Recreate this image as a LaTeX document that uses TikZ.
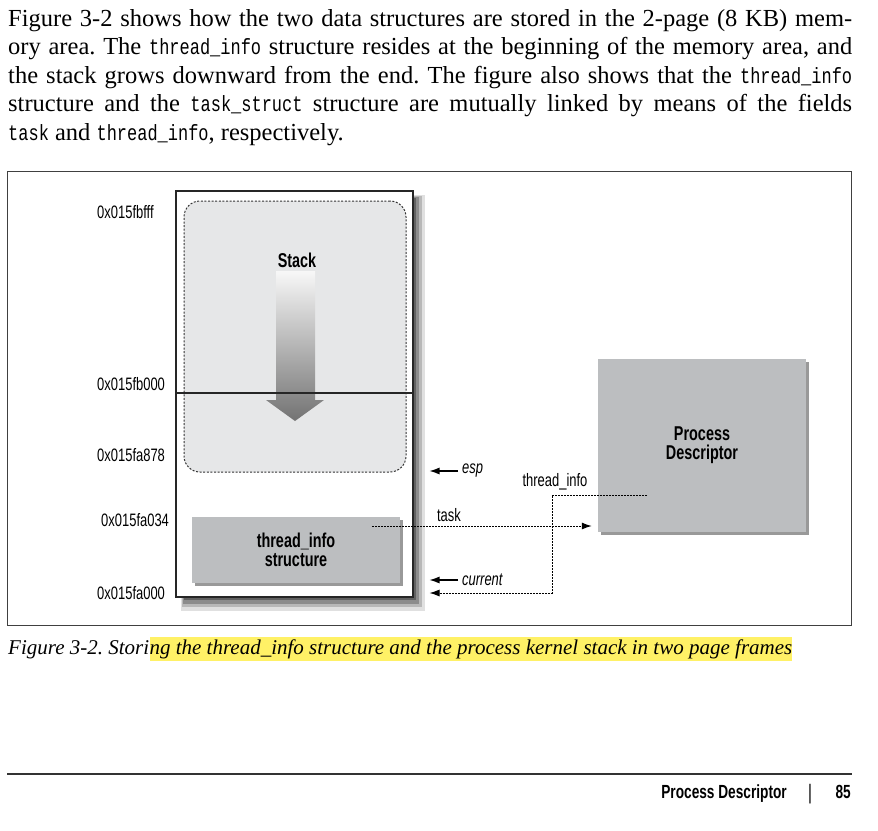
\documentclass[tikz,border=0pt]{standalone}
\usepackage{fontspec}
\setmainfont{Liberation Serif}
\setsansfont[FakeStretch=0.72]{Liberation Sans}
\setmonofont[FakeStretch=0.77, Scale=0.9]{Liberation Mono}
\usetikzlibrary{arrows.meta, shadows, positioning}
\frenchspacing

\definecolor{boxgray}{RGB}{188,190,192}
\definecolor{stackgray}{RGB}{230,231,232}
\definecolor{hilite}{RGB}{255,241,102}

\tikzset{
  bodyline/.style={anchor=base west, inner sep=0pt, font=\fontsize{24.5}{28}\selectfont},
  addr/.style={anchor=west, inner sep=0pt, font=\sffamily\fontsize{18}{18}\selectfont},
  fieldlbl/.style={inner sep=0pt, font=\sffamily\fontsize{18}{18}\selectfont},
  reglbl/.style={anchor=west, inner sep=0pt, font=\sffamily\itshape\fontsize{18}{18}\selectfont},
  title/.style={align=center, inner sep=0pt, font=\sffamily\bfseries\fontsize{20}{19}\selectfont},
  graybox/.style={fill=boxgray, drop shadow={shadow xshift=3pt, shadow yshift=-3pt, fill=black!40, opacity=1}},
  ptr/.style={line width=1pt, dash pattern=on 1.6pt off 1.4pt},
  tip/.style={-{Latex[length=10pt,width=7pt]}},
  regarrow/.style={line width=1.2pt, -{Latex[length=10pt,width=7pt]}},
}

\begin{document}
\begin{tikzpicture}[x=1pt, y=-1pt]
\useasboundingbox (0,0) rectangle (878,830);

% text above the figure
\node[bodyline] (l1) at (8,26) {\makebox[844pt][s]{Figure 3-2 shows how the two data structures are stored in the 2-page (8 KB) mem-}};
\node[bodyline] (l2) at (8,54.5) {\makebox[844pt][s]{ory area. The \texttt{thread\_info} structure resides at the beginning of the memory area, and}};
\node[bodyline] (l3) at (8,83) {\makebox[844pt][s]{the stack grows downward from the end. The figure also shows that the \texttt{thread\_info}}};
\node[bodyline] (l4) at (8,111.5) {\makebox[844pt][s]{structure and the \texttt{task\_struct} structure are mutually linked by means of the fields}};
\node[bodyline] (l5) at (8,140) {\texttt{task} and \texttt{thread\_info}, respectively.};

% figure frame
\draw[line width=1pt, black!75] (7,171) rectangle (851,625);

% shadow of the 2 pages
\fill[black!12] (181,195) rectangle (425,611);
\fill[black!28] (182,196) rectangle (422,607);
\fill[black!45] (183,197) rectangle (419,604);
\fill[black!62] (184,198) rectangle (416,600);

\node[draw=black!85, line width=2pt, fill=white, inner sep=0pt,
      minimum width=237pt, minimum height=406pt] (mem) at (294.5,394) {};
\node[draw=black!80, line width=1pt, dash pattern=on 2pt off 1.6pt, fill=stackgray,
      rounded corners=16pt, minimum width=222pt, minimum height=271pt] (stack) at (295,336.5) {};

% stack grows down
\shade[top color=black!3, bottom color=black!55]
  (276,271) -- (315,271) -- (315,400) -- (324,400) -- (295,421) -- (266,400) -- (276,400) -- cycle;

\coordinate (split) at (0,393);
\draw[line width=1.5pt, black!85] (mem.west |- split) -- (mem.east |- split);

\node[title] (stacklbl) at (297,260) {Stack};
\node[graybox, title, minimum width=208pt, minimum height=66pt] (tinfo) at (296,550) {thread\_info\\structure};
\node[graybox, title, minimum width=208pt, minimum height=173pt] (pd) at (702,445.5) {Process\\Descriptor};

% addresses
\node[addr] (a1) at (97,212) {0x015fbfff};
\node[addr] (a2) at (97,384) {0x015fb000};
\node[addr] (a3) at (97,455) {0x015fa878};
\node[addr] (a4) at (101,520) {0x015fa034};
\node[addr] (a5) at (97,593) {0x015fa000};

% registers
\coordinate (rim) at (429.5,0);
\node[reglbl] (esp) at (462,471) {esp};
\node[reglbl] (cur) at (462,580) {current};
\draw[regarrow] ([xshift=-4pt]esp.west) -- (esp.west -| rim);
\draw[regarrow] ([xshift=-4pt]cur.west) -- (cur.west -| rim);

% mutual links
\node[fieldlbl] (tasklbl) at (449,515) {task};
\node[fieldlbl] (tilbl) at (555,482) {thread\_info};
\coordinate (taskptr) at (372,526);
\coordinate (tiptr) at (647,495);
\coordinate (bend) at (552,593);
\draw[ptr, tip, shorten >=6pt] (taskptr) -- (taskptr -| pd.west);
\draw[ptr, tip] (tiptr) -| (bend) -- (bend -| rim);

% caption
\node[anchor=base west, inner sep=0pt, font=\itshape\fontsize{21}{21}\selectfont] (cap) at (8,654) {Figure 3-2. Stori};
\node[anchor=base west, inner sep=0pt, fill=hilite, text height=17pt, text depth=7pt,
      font=\itshape\fontsize{21}{21}\selectfont] (caphl) at (cap.base east) {ng the thread\_info structure and the process kernel stack in two page frames};

% running foot
\draw[line width=1.5pt, black!80] (7,774) -- (852,774);
\node[anchor=base east, inner sep=0pt, font=\sffamily\bfseries\fontsize{19}{19}\selectfont] (ftitle) at (787,798) {Process Descriptor};
\node[anchor=base, inner sep=0pt, font=\sffamily\fontsize{21}{21}\selectfont] (fbar) at (810,799) {|};
\node[anchor=base east, inner sep=0pt, font=\sffamily\bfseries\fontsize{19}{19}\selectfont] (fpage) at (851,798) {85};
\end{tikzpicture}
\end{document}
